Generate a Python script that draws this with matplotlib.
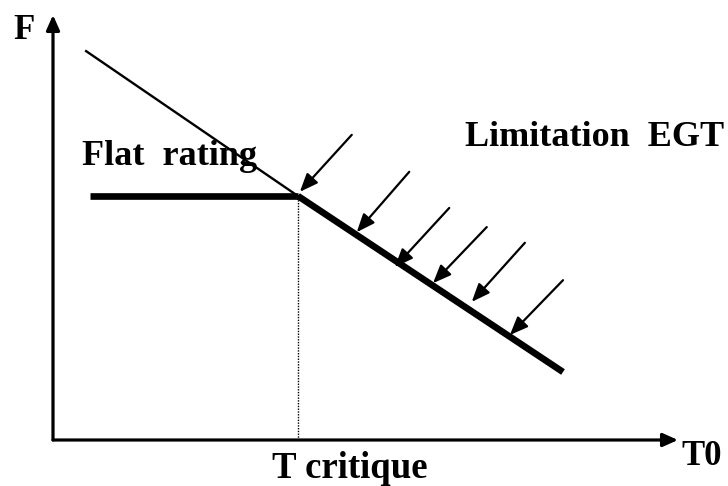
import matplotlib
matplotlib.use("Agg")
import matplotlib.pyplot as plt

# ------------------------------------------------------------------
# Diagram data (arbitrary units, origin at the axes corner, 0..100)
# ------------------------------------------------------------------
# thin line: theoretical thrust (F) falling with ambient temperature
thin_T = [5.3, 39.2]
thin_F = [91.5, 57.4]

# flat rating plateau
flat_T = [5.9, 39.2]
flat_F = [57.4, 57.4]

# EGT limitation (thick sloped part)
egt_T = [39.2, 81.6]
egt_F = [57.4, 16.0]

# critical temperature
T_crit = 39.2
F_crit = 57.4

# hatching arrows pushing on the EGT line: tail (T, F) -> tip (T, F)
arrow_tail_T = [47.8, 57.0, 63.4, 69.4, 75.5, 81.6]
arrow_tail_F = [71.8, 63.1, 54.6, 50.1, 46.4, 37.6]
arrow_tip_T = [39.5, 48.6, 54.7, 60.8, 67.0, 73.1]
arrow_tip_F = [58.4, 48.9, 40.7, 36.9, 32.5, 24.7]

FONT = dict(family="Liberation Serif", fontweight="bold", color="black")

fig = plt.figure(figsize=(7.28, 4.86), dpi=100)
ax = fig.add_axes([53 / 728, 46 / 486, 625 / 728, 425 / 486])
ax.set_xlim(0, 100)
ax.set_ylim(0, 100)
ax.axis("off")

# axes with arrow heads
axis_arrow = dict(arrowstyle="-|>,head_length=0.9,head_width=0.4",
                  color="black", lw=2.3, shrinkA=0, shrinkB=0)
ax.annotate("", xy=(100, 0), xytext=(0, 0), arrowprops=axis_arrow,
            annotation_clip=False)
ax.annotate("", xy=(0, 100), xytext=(0, 0), arrowprops=axis_arrow,
            annotation_clip=False)

# curves
ax.plot(thin_T, thin_F, color="black", lw=1.7, clip_on=False)
ax.plot(flat_T, flat_F, color="black", lw=4.8, solid_capstyle="butt",
        clip_on=False)
ax.plot(egt_T, egt_F, color="black", lw=4.8, solid_capstyle="butt",
        clip_on=False)
ax.plot([T_crit, T_crit], [0, F_crit], color="black", lw=1, ls=(0, (1, 1)),
        clip_on=False)

# EGT limit arrows
small_arrow = dict(arrowstyle="-|>,head_length=1.1,head_width=0.45",
                   color="black", lw=1.6, shrinkA=0, shrinkB=0)
for tT, tF, hT, hF in zip(arrow_tail_T, arrow_tail_F, arrow_tip_T, arrow_tip_F):
    ax.annotate("", xy=(hT, hF), xytext=(tT, tF), arrowprops=small_arrow,
                annotation_clip=False)

# labels
ax.text(-6.4, 94.4, "F", fontsize=25, ha="left", va="baseline", **FONT)
ax.text(4.6, 64.7, "Flat  rating", fontsize=26, ha="left", va="baseline", **FONT)
ax.text(65.9, 69.2, "Limitation  EGT", fontsize=26, ha="left", va="baseline",
        **FONT)
ax.text(35.0, -8.9, "T critique", fontsize=26.5, ha="left", va="baseline", **FONT)
ax.text(100.6, -5.9, "T0", fontsize=25, ha="left", va="baseline", **FONT)

plt.savefig("out.png", dpi=100)
